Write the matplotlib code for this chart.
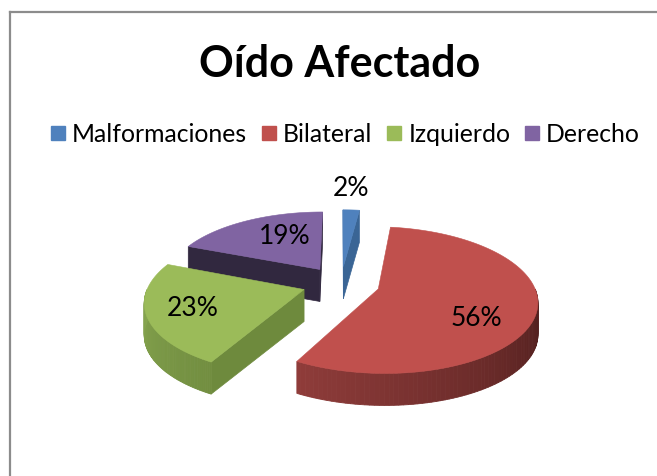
import numpy as np
import matplotlib
matplotlib.use("Agg")
import matplotlib.pyplot as plt
from matplotlib.patches import Polygon
from matplotlib.lines import Line2D
import matplotlib.colors as mcolors

# ---------------- data ----------------
title = "Oído Afectado"
categories = ["Malformaciones", "Bilateral", "Izquierdo", "Derecho"]
values = [2, 56, 23, 19]
pct_labels = ["2%", "56%", "23%", "19%"]

# ---------------- style ----------------
top_colors = ["#4F81BD", "#C0504D", "#9BBB59", "#8064A2"]
start_face = ["#4A78B0", "#8E3B3A", "#6E8A3D", "#31283F"]
end_face = ["#3A6595", "#8E3B3A", "#6E8A3D", "#31283F"]
curve_light = ["#4A78B0", "#8F3C3A", "#86A54F", "#4A3D5E"]
curve_dark = ["#3A6595", "#4A1C1B", "#728E40", "#31283F"]
label_xy = [(351, 188), (476, 318), (193, 308), (285, 237)]
FONT = ["Lato", "DejaVu Sans"]

# geometry / projection (pixel layout)
CX, CY = 341.0, 283.5
A, B, K = 155.0, 70.0, 0.15
EXPL = 0.25
DEP = 32.0

def proj(u, w):
    d = 1.0 + K * w
    return CX + A * u / d, CY - B * w / d

fig = plt.figure(figsize=(6.57, 4.76), dpi=100)
ax = fig.add_axes([0, 0, 1, 1])
ax.set_xlim(0, 657)
ax.set_ylim(476, 0)
ax.axis("off")

# chart-area border (left and top visible)
ax.add_line(Line2D([9.5, 9.5], [476, 11.5], color="#8C8C8C", lw=1.6))
ax.add_line(Line2D([9.5, 657], [11.5, 11.5], color="#8C8C8C", lw=1.6))

vals = np.array(values, dtype=float)
fr = vals / vals.sum()
edges = np.concatenate([[0], np.cumsum(fr)]) * 360.0

slices = []
for i in range(len(vals)):
    t0, t1 = edges[i], edges[i + 1]
    mid = np.radians((t0 + t1) / 2)
    au, aw = EXPL * np.sin(mid), EXPL * np.cos(mid)
    slices.append((aw, i, t0, t1, au))

def mix(c1, c2, t):
    a = np.array(mcolors.to_rgb(c1)); b = np.array(mcolors.to_rgb(c2))
    return tuple(a * (1 - t) + b * t)

for aw, i, t0, t1, au in sorted(slices, key=lambda s: -s[0]):
    apex = proj(au, aw)
    def rim(th):
        r = np.radians(th)
        return proj(au + np.sin(r), aw + np.cos(r))
    # radial faces
    rs = rim(t0)
    re_ = rim(t1)
    if rs[0] < apex[0] - 0.01:
        poly = [apex, rs, (rs[0], rs[1] + DEP), (apex[0], apex[1] + DEP)]
        ax.add_patch(Polygon(poly, closed=True, fc=start_face[i], ec=start_face[i], lw=0.5))
    if re_[0] > apex[0] + 0.01:
        poly = [apex, re_, (re_[0], re_[1] + DEP), (apex[0], apex[1] + DEP)]
        ax.add_patch(Polygon(poly, closed=True, fc=end_face[i], ec=end_face[i], lw=0.5))
    # curved face
    lo, hi = max(t0, 90.0), min(t1, 270.0)
    if hi > lo:
        ths = np.linspace(lo, hi, 80)
        for j in range(len(ths) - 1):
            p0, p1 = rim(ths[j]), rim(ths[j + 1])
            t = ((ths[j] + ths[j + 1]) / 2 - lo) / (hi - lo)
            c = mix(curve_dark[i], curve_light[i], t)
            poly = [p0, p1, (p1[0], p1[1] + DEP), (p0[0], p0[1] + DEP)]
            ax.add_patch(Polygon(poly, closed=True, fc=c, ec=c, lw=0.6))
    # top face
    ths = np.linspace(t0, t1, max(4, int((t1 - t0) * 2)))
    pts = [apex] + [rim(th) for th in ths]
    ax.add_patch(Polygon(pts, closed=True, fc=top_colors[i], ec=top_colors[i], lw=0.4))

for i, (x, y) in enumerate(label_xy):
    ax.text(x, y, pct_labels[i], ha="center", va="center", fontsize=19,
            family=FONT, color="black")

fig.text(0.517, 1 - 64 / 476, title, ha="center", va="center", fontsize=31,
         fontweight="bold", family=FONT)

handles = [Line2D([], [], marker="s", ls="", markersize=9.5, mfc=c, mec=c) for c in top_colors]
fig.legend(handles, categories, loc="center", bbox_to_anchor=(0.526, 1 - 134 / 476),
           ncol=4, frameon=False, prop={"family": FONT, "size": 17.8},
           handlelength=0.55, handletextpad=0.3, columnspacing=0.6, borderpad=0)

fig.savefig("out.png", dpi=100)
